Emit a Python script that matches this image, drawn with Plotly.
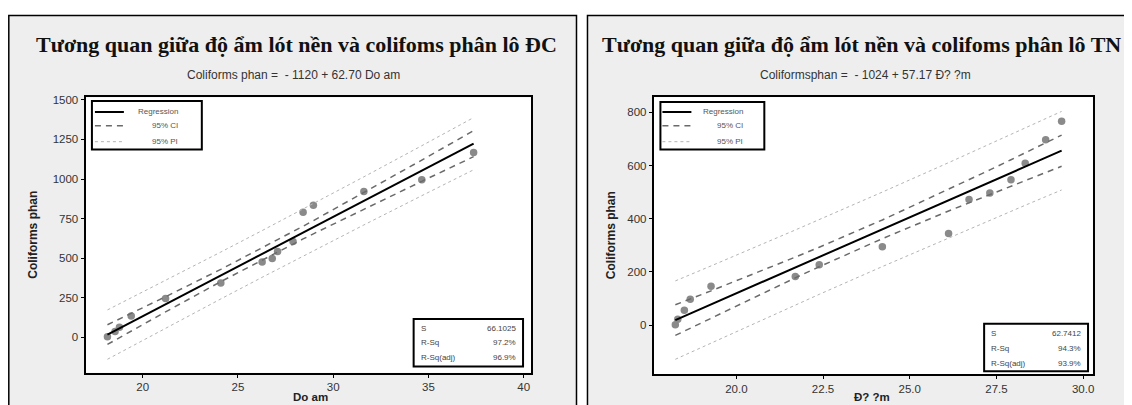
import numpy as np
import plotly.graph_objects as go

PAGE_W, PAGE_H = 1132, 405
OFF = 8  # default body margin of the written page
W, H = PAGE_W - OFF, PAGE_H - OFF

# ---------------- data ----------------
# Left panel: lô ĐC
dc_do_am = [18.15, 18.55, 18.78, 19.40, 21.20, 24.10, 26.27, 26.80, 27.08, 27.89, 28.42, 28.96, 31.61, 34.65, 37.37]
dc_coliforms = [4, 38, 64, 135, 246, 343, 477, 499, 542, 606, 790, 834, 921, 996, 1167]
dc_intercept = -1120
dc_slope = 62.70
dc_s = 66.1025
dc_rsq = "97.2%"
dc_rsq_adj = "96.9%"

# Right panel: lô TN
tn_do_am = [18.24, 18.31, 18.50, 18.67, 19.27, 21.70, 22.39, 24.21, 26.12, 26.71, 27.31, 27.92, 28.33, 28.92, 29.38]
tn_coliforms = [1, 22, 56, 97, 146, 183, 227, 295, 344, 472, 497, 546, 608, 697, 766]
tn_intercept = -1024
tn_slope = 57.17
tn_s = 62.7412
tn_rsq = "94.3%"
tn_rsq_adj = "93.9%"

left_xticks = [20, 25, 30, 35, 40]
left_yticks = [0, 250, 500, 750, 1000, 1250, 1500]
right_xticks = [20.0, 22.5, 25.0, 27.5, 30.0]
right_yticks = [0, 200, 400, 600, 800]

T_CRIT = 2.160  # t(0.975, df=13)

titles = ["Tương quan giữa độ ẩm lót nền và colifoms phân lô ĐC",
          "Tương quan giữa độ ẩm lót nền và colifoms phân lô TN"]
subtitles = ["Coliforms phan =  - 1120 + 62.70 Do am",
             "Coliformsphan =  - 1024 + 57.17 Đ? ?m"]
xtitles = ["Do am", "Đ? ?m"]
ytitle = "Coliforms phan"
legend_names = ["Regression", "95% CI", "95% PI"]


def px(x):
    return (x - OFF) / W


def py(y):
    return 1 - (y - OFF) / H


def bands(x, intercept, slope, s):
    x = np.asarray(x, float)
    xs = np.sort(x)
    n = len(x)
    xbar = x.mean()
    sxx = ((x - xbar) ** 2).sum()
    fit = intercept + slope * xs
    ci = T_CRIT * s * np.sqrt(1 / n + (xs - xbar) ** 2 / sxx)
    pi = T_CRIT * s * np.sqrt(1 + 1 / n + (xs - xbar) ** 2 / sxx)
    return xs, fit, fit - ci, fit + ci, fit - pi, fit + pi


fig = go.Figure()

panels = [
    dict(x=dc_do_am, y=dc_coliforms, b0=dc_intercept, b1=dc_slope, s=dc_s, xa="x", ya="y"),
    dict(x=tn_do_am, y=tn_coliforms, b0=tn_intercept, b1=tn_slope, s=tn_s, xa="x2", ya="y2"),
]

for p in panels:
    xs, fit, cil, ciu, pil, piu = bands(p["x"], p["b0"], p["b1"], p["s"])
    fig.add_trace(go.Scatter(x=p["x"], y=p["y"], mode="markers",
                             marker=dict(color="#8a8a8a", size=7.5),
                             xaxis=p["xa"], yaxis=p["ya"], showlegend=False))
    for band in (piu, pil):
        fig.add_trace(go.Scatter(x=xs, y=band, mode="lines",
                                 line=dict(color="#b4b4b4", width=1, dash="3px,3px"),
                                 xaxis=p["xa"], yaxis=p["ya"], showlegend=False))
    for band in (ciu, cil):
        fig.add_trace(go.Scatter(x=xs, y=band, mode="lines",
                                 line=dict(color="#6a6a6a", width=1.5, dash="6px,5px"),
                                 xaxis=p["xa"], yaxis=p["ya"], showlegend=False))
    fig.add_trace(go.Scatter(x=xs, y=fit, mode="lines",
                             line=dict(color="black", width=2),
                             xaxis=p["xa"], yaxis=p["ya"], showlegend=False))

# plot boxes (page pixel positions)
boxes = [
    dict(x0=85.6, x1=531.8, y0=94.3, y1=372.3),
    dict(x0=654.4, x1=1093.8, y0=94.0, y1=374.0),
]

axis_common = dict(showgrid=False, zeroline=False, showline=True, linecolor="black",
                   linewidth=2, mirror=True, ticks="outside", ticklen=3,
                   tickcolor="black", tickwidth=1,
                   tickfont=dict(family="Liberation Sans", size=11.5, color="#333333"))

b = boxes[0]
fig.update_layout(
    xaxis=dict(domain=[px(b["x0"]), px(b["x1"])], range=[17.0, 40.4],
               tickvals=left_xticks, anchor="y", **axis_common),
    yaxis=dict(domain=[py(b["y1"]), py(b["y0"])], range=[-222, 1515],
               tickvals=left_yticks, anchor="x", **axis_common),
)
b = boxes[1]
fig.update_layout(
    xaxis2=dict(domain=[px(b["x0"]), px(b["x1"])], range=[17.62, 30.28],
                tickvals=right_xticks, tickformat=".1f", anchor="y2", **axis_common),
    yaxis2=dict(domain=[py(b["y1"]), py(b["y0"])], range=[-185, 857],
                tickvals=right_yticks, anchor="x2", **axis_common),
)

shapes = []
# panel frames
for (x0, x1) in [(8.8, 577), (588, 1127)]:
    shapes.append(dict(type="rect", xref="paper", yref="paper", x0=px(x0), x1=px(x1),
                       y0=-0.05, y1=py(11.5), fillcolor="#eeeeee",
                       line=dict(color="black", width=1.5), layer="below"))
for b in boxes:
    shapes.append(dict(type="rect", xref="paper", yref="paper", x0=px(b["x0"]), x1=px(b["x1"]),
                       y0=py(b["y1"]), y1=py(b["y0"]), fillcolor="white",
                       line=dict(width=0), layer="below"))

annotations = []
# titles and subtitles
for cx, t in zip([297, 862], titles):
    annotations.append(dict(xref="paper", yref="paper", x=px(cx), y=py(41), text="<b>" + t + "</b>",
                            showarrow=False, xanchor="center", yanchor="middle",
                            font=dict(family="Liberation Serif", size=22, color="#111111")))
for cx, t in zip([294, 866], subtitles):
    annotations.append(dict(xref="paper", yref="paper", x=px(cx), y=py(72), text=t,
                            showarrow=False, xanchor="center", yanchor="middle",
                            font=dict(family="Liberation Sans", size=12, color="#333333")))
# axis titles
for cx in [33, 611]:
    annotations.append(dict(xref="paper", yref="paper", x=px(cx), y=py(233), text="<b>" + ytitle + "</b>",
                            textangle=-90, showarrow=False, xanchor="center", yanchor="middle",
                            font=dict(family="Liberation Sans", size=12, color="#222222")))
for cx, t in zip([311, 873], xtitles):
    annotations.append(dict(xref="paper", yref="paper", x=px(cx), y=py(405), text="<b>" + t + "</b>",
                            showarrow=False, xanchor="center", yanchor="bottom",
                            font=dict(family="Liberation Sans", size=11.5, color="#222222")))

# legend boxes (inside top-left of each plot)
legend_boxes = [dict(x0=92, x1=202, y0=98, y1=147, lx0=95, lx1=124, tx=180),
                dict(x0=661, x1=765, y0=99, y1=147, lx0=663, lx1=692, tx=746)]
row_y = [109, 123, 139]
row_styles = [dict(color="black", width=2, dash="solid"),
              dict(color="#6a6a6a", width=1.5, dash="6px,5px"),
              dict(color="#b4b4b4", width=1, dash="3px,3px")]
for lb in legend_boxes:
    shapes.append(dict(type="rect", xref="paper", yref="paper", x0=px(lb["x0"]), x1=px(lb["x1"]),
                       y0=py(lb["y1"]), y1=py(lb["y0"]), fillcolor="white",
                       line=dict(color="black", width=2), layer="above"))
    for ry, st, name in zip(row_y, row_styles, legend_names):
        shapes.append(dict(type="line", xref="paper", yref="paper", x0=px(lb["lx0"]), x1=px(lb["lx1"]),
                           y0=py(ry), y1=py(ry), line=st, layer="above"))
        annotations.append(dict(xref="paper", yref="paper", x=px(lb["tx"]), y=py(ry), text=name,
                                showarrow=False, xanchor="right", yanchor="middle",
                                font=dict(family="Liberation Sans", size=8, color="#555555")))

# stats boxes (bottom-right)
stats_boxes = [dict(x0=414, x1=523.5, y0=318, y1=366, rows=[328, 342, 357],
                    vals=[f"{dc_s:.4f}", dc_rsq, dc_rsq_adj]),
               dict(x0=985, x1=1089, y0=323, y1=371, rows=[333, 348, 363],
                    vals=[f"{tn_s:.4f}", tn_rsq, tn_rsq_adj])]
stat_labels = ["S", "R-Sq", "R-Sq(adj)"]
for sb in stats_boxes:
    shapes.append(dict(type="rect", xref="paper", yref="paper", x0=px(sb["x0"]), x1=px(sb["x1"]),
                       y0=py(sb["y1"]), y1=py(sb["y0"]), fillcolor="white",
                       line=dict(color="black", width=2), layer="above"))
    for ry, lab, val in zip(sb["rows"], stat_labels, sb["vals"]):
        annotations.append(dict(xref="paper", yref="paper", x=px(sb["x0"] + 5), y=py(ry), text=lab,
                                showarrow=False, xanchor="left", yanchor="middle",
                                font=dict(family="Liberation Sans", size=8, color="#444444")))
        annotations.append(dict(xref="paper", yref="paper", x=px(sb["x1"] - 5), y=py(ry), text=val,
                                showarrow=False, xanchor="right", yanchor="middle",
                                font=dict(family="Liberation Sans", size=8, color="#444444")))

fig.update_layout(width=W, height=H, margin=dict(l=0, r=0, t=0, b=0),
                  paper_bgcolor="white", plot_bgcolor="white",
                  showlegend=False, shapes=shapes, annotations=annotations)

fig.write_html("out.html")
